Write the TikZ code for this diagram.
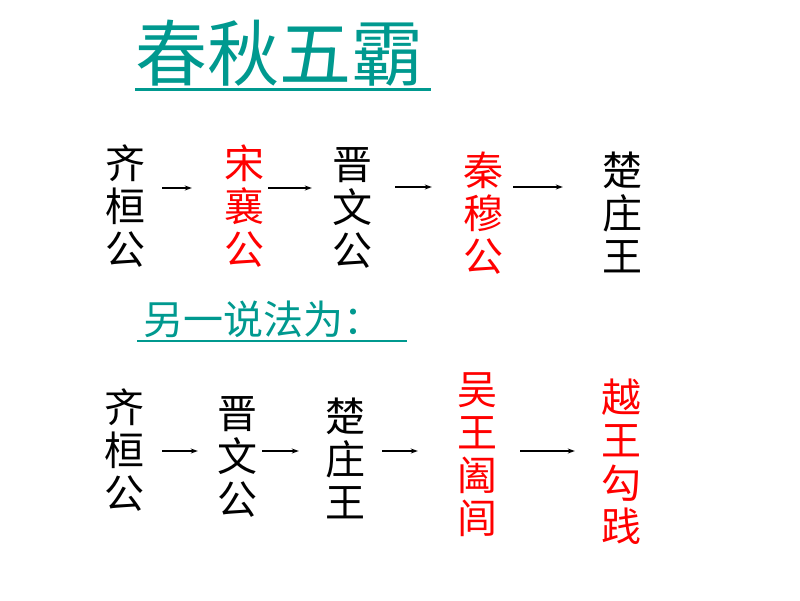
\documentclass[tikz,border=0pt]{standalone}
\usepackage{fontspec}
\usepackage{xcolor}
\usetikzlibrary{arrows.meta}
\newfontfamily\cjk{Noto Sans CJK SC}
\definecolor{titleteal}{RGB}{0,153,143}
\definecolor{kingred}{RGB}{255,0,0}

\begin{document}
\begin{tikzpicture}[x=1pt,y=-1pt,every text node part/.style={align=center}]
\tikzstyle{every node}+=[inner sep=0pt]
\tikzstyle{ruler}=[font=\cjk\fontsize{40}{43}\selectfont]
\tikzstyle{hegemon}=[ruler,text=kingred]
\tikzstyle{arr}=[black,line width=1.1pt,-{Stealth[length=7pt,width=5pt]}]
\useasboundingbox (0,0) rectangle (800,600);
% title
\node [anchor=base west,text=titleteal,font=\cjk\fontsize{72}{72}\selectfont] (title) at (135,80) {春秋五霸};
\draw [titleteal,line width=3pt] (135,89) -- (431,89);
% first list
\node [ruler] (qi1) at (125,206) {齐\\桓\\公};
\node [hegemon] (song1) at (244,206) {宋\\襄\\公};
\node [ruler] (jin1) at (352,208) {晋\\文\\公};
\node [hegemon] (qin1) at (483,213) {秦\\穆\\公};
\node [ruler] (chu1) at (622,212) {楚\\庄\\王};
\draw [arr] ([xshift=17pt]qi1.east |- 0,188) -- ([xshift=-32pt]song1.west |- 0,188);
\draw [arr] ([xshift=4pt]song1.east |- 0,188) -- ([xshift=-20pt]jin1.west |- 0,188);
\draw [arr] ([xshift=23pt]jin1.east |- 0,187) -- ([xshift=-31pt]qin1.west |- 0,187);
\draw [arr] ([xshift=10pt]qin1.east |- 0,187) -- ([xshift=-39pt]chu1.west |- 0,187);
% second opinion
\node [anchor=base west,text=titleteal,font=\cjk\fontsize{40}{40}\selectfont] (other) at (143,334) {另一说法为：};
\draw [titleteal,line width=2pt] (137,341) -- (407,341);
% second list
\node [ruler] (qi2) at (124,450) {齐\\桓\\公};
\node [ruler] (jin2) at (237,457) {晋\\文\\公};
\node [ruler] (chu2) at (345,458) {楚\\庄\\王};
\node [hegemon] (wu2) at (477,455) {吴\\王\\阖\\闾};
\node [hegemon] (yue2) at (621,462) {越\\王\\勾\\践};
\draw [arr] ([xshift=18pt]qi2.east |- 0,451) -- ([xshift=-19pt]jin2.west |- 0,451);
\draw [arr] ([xshift=5pt]jin2.east |- 0,451) -- ([xshift=-26pt]chu2.west |- 0,451);
\draw [arr] ([xshift=17pt]chu2.east |- 0,451) -- ([xshift=-39pt]wu2.west |- 0,451);
\draw [arr] ([xshift=23pt]wu2.east |- 0,451) -- ([xshift=-26pt]yue2.west |- 0,451);
\end{tikzpicture}
\end{document}
